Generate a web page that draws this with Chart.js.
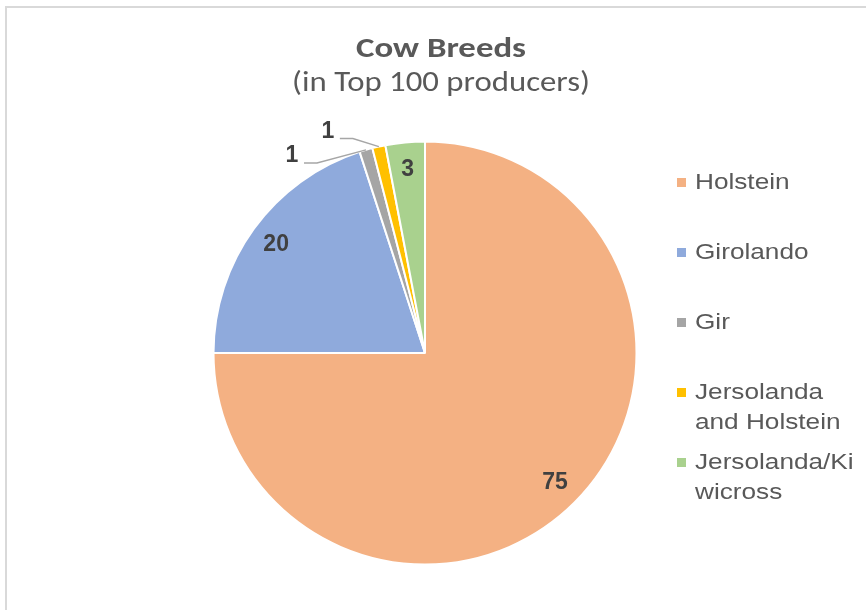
<!DOCTYPE html>
<html>
<head>
<meta charset="utf-8">
<script src="https://cdn.jsdelivr.net/npm/chart.js@4"></script>
<style>
  html, body { margin: 0; padding: 0; background: #fff; }
  #wrap { width: 866px; height: 610px; }
</style>
</head>
<body>
<div id="wrap"><canvas id="chartPie"></canvas></div>
<script>
// данные
var breeds = ['Holstein', 'Girolando', 'Gir', ['Jersolanda', 'and Holstein'], ['Jersolanda/Ki', 'wicross']];
var producers = [75, 20, 1, 1, 3];
var colors = ['#F4B183', '#8FAADC', '#A5A5A5', '#FFC000', '#A9D18E'];

var titleText = 'Cow Breeds';
var subtitleText = '(in Top 100 producers)';

// small slices get their label outside, with a leader line (offset from arc edge)
var outsideLabel = [null, null, {dx: -74, dy: 6}, {dx: -51, dy: -15}, null];

// text in the picture is a bit wider than the fonts we have
function wideText(ctx, txt, x, y, sx) {
    ctx.save();
    ctx.translate(x, y);
    ctx.scale(sx, 1);
    ctx.fillText(txt, 0, 0);
    ctx.restore();
}

var framePlugin = {
    id: 'frame',
    beforeDraw: function (chart) {
        var ctx = chart.ctx;
        ctx.save();
        ctx.fillStyle = '#fff';
        ctx.fillRect(0, 0, chart.width, chart.height);
        ctx.strokeStyle = '#d9d9d9';
        ctx.lineWidth = 2;
        ctx.strokeRect(6, 7, chart.width + 20, chart.height + 20);
        ctx.restore();
    }
};

var titlePlugin = {
    id: 'titles',
    afterDraw: function (chart) {
        var ctx = chart.ctx;
        ctx.save();
        ctx.textAlign = 'center';
        ctx.textBaseline = 'alphabetic';
        ctx.fillStyle = '#595959';
        ctx.font = 'bold 29px Carlito, Calibri, Lato, sans-serif';
        wideText(ctx, titleText, 441, 57, 1.2);
        ctx.font = '28px Carlito, Calibri, Lato, sans-serif';
        wideText(ctx, subtitleText, 441, 91, 1.17);
        ctx.restore();
    }
};

var labelPlugin = {
    id: 'sliceLabels',
    afterDatasetsDraw: function (chart) {
        var ctx = chart.ctx;
        var meta = chart.getDatasetMeta(0);
        ctx.save();
        ctx.font = 'bold 23px "Liberation Sans", Arial, sans-serif';
        ctx.fillStyle = '#404040';
        ctx.textAlign = 'center';
        ctx.textBaseline = 'middle';
        meta.data.forEach(function (arc, i) {
            var p = arc.getProps(['x', 'y', 'startAngle', 'endAngle', 'outerRadius'], true);
            var mid = (p.startAngle + p.endAngle) / 2;
            var txt = String(producers[i]);
            if (outsideLabel[i]) {
                var ex = p.x + Math.cos(mid) * p.outerRadius;
                var ey = p.y + Math.sin(mid) * p.outerRadius;
                var lx = ex + outsideLabel[i].dx;
                var ly = ey + outsideLabel[i].dy;
                ctx.strokeStyle = '#a6a6a6';
                ctx.lineWidth = 1.5;
                ctx.beginPath();
                ctx.moveTo(lx + 12, ly + 7);
                ctx.lineTo(lx + 25, ly + 7);
                ctx.lineTo(ex, ey);
                ctx.stroke();
                ctx.fillText(txt, lx, ly);
            } else {
                var r = p.outerRadius * 0.87;
                ctx.fillText(txt, p.x + Math.cos(mid) * r, p.y + Math.sin(mid) * r);
            }
        });
        ctx.restore();
    }
};

var legendPlugin = {
    id: 'sideLegend',
    afterDraw: function (chart) {
        var ctx = chart.ctx;
        ctx.save();
        ctx.font = '22px "Liberation Sans", Arial, sans-serif';
        ctx.textBaseline = 'middle';
        ctx.textAlign = 'left';
        breeds.forEach(function (name, i) {
            var y = 183 + i * 70;
            ctx.fillStyle = colors[i];
            ctx.fillRect(677, y - 5, 9, 9);
            ctx.fillStyle = '#595959';
            var lines = Array.isArray(name) ? name : [name];
            lines.forEach(function (ln, k) {
                wideText(ctx, ln, 695, y + k * 30, 1.19);
            });
        });
        ctx.restore();
    }
};

var pie = new Chart(document.getElementById('chartPie'), {
    type: 'pie',
    data: {
        labels: breeds,
        datasets: [
            {
                data: producers,
                backgroundColor: colors,
                borderColor: '#ffffff',
                borderWidth: 2,
                hoverOffset: 0
            }
        ]
    },
    options: {
        responsive: true,
        maintainAspectRatio: false,
        animation: false,
        events: [],
        layout: {
            padding: { left: 212.5, right: 228.5, top: 140.5, bottom: 44.5 }
        },
        plugins: {
            legend: { display: false },
            title: { display: false },
            tooltip: { enabled: false }
        }
    },
    plugins: [framePlugin, titlePlugin, labelPlugin, legendPlugin]
});
</script>
</body>
</html>
